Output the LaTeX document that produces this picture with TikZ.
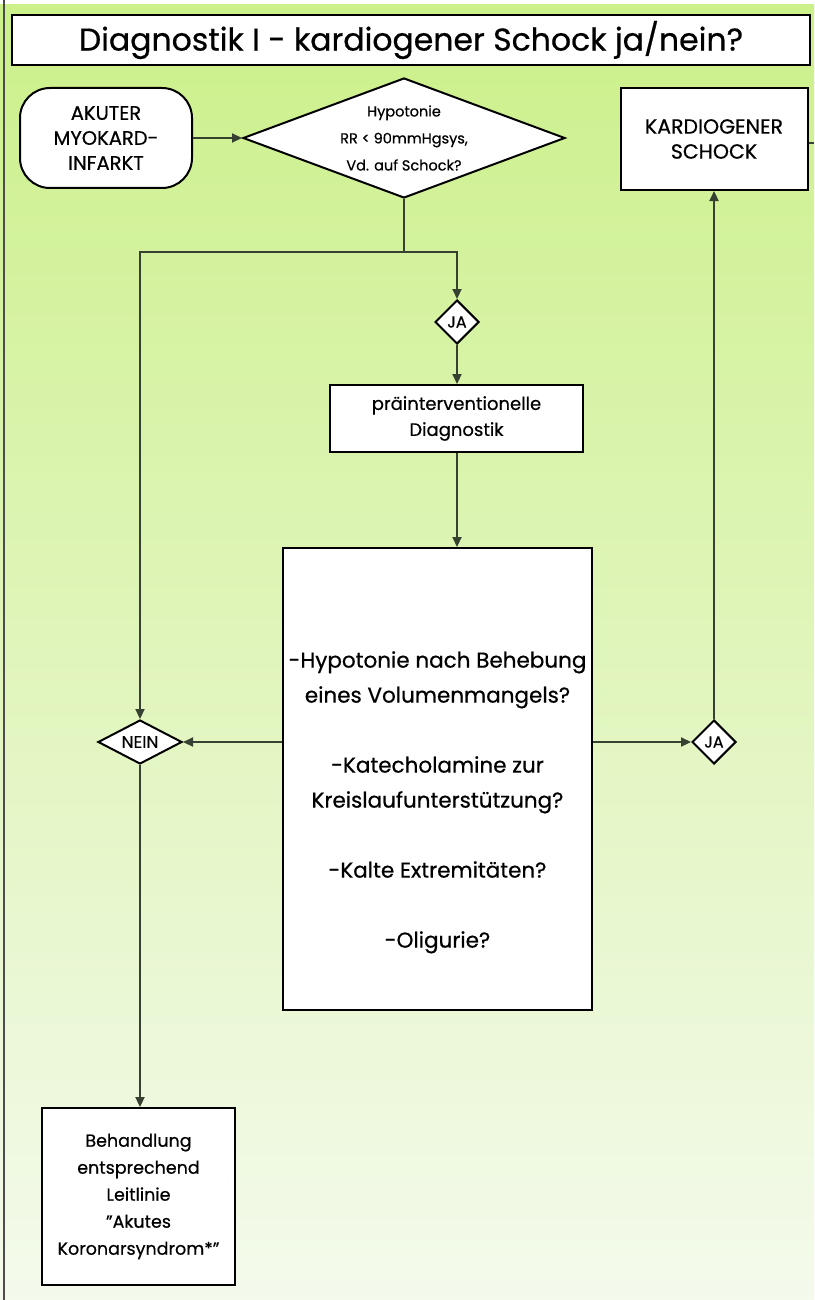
\documentclass[tikz,border=0pt]{standalone}
\usepackage{fontspec}
\setmainfont{Poppins}[FakeBold=0.6]
\usetikzlibrary{shapes.geometric,arrows.meta}
\definecolor{bgtop}{RGB}{204,240,138}
\definecolor{bgbot}{RGB}{244,250,236}
\definecolor{linec}{RGB}{55,65,50}
\tikzset{
  box/.style={draw=black,line width=2pt,fill=white,align=center,inner sep=2pt},
  dia/.style={draw=black,line width=2pt,fill=white,shape=diamond,inner sep=0pt,align=center},
  conn/.style={draw=linec,line width=2.2pt},
  arr/.style={conn,-{Triangle[length=10pt,width=9pt]}},
}
\begin{document}
\begin{tikzpicture}[x=1pt,y=-1pt]
\useasboundingbox (0,0) rectangle (814,1300);
\shade[top color=bgtop,bottom color=bgbot] (0,4) rectangle (814,1300);
\fill[white] (0,0) rectangle (814,4);
\draw[draw=black!70,line width=2pt] (4,0) -- (4,1300);

\node[box,minimum width=798pt,minimum height=50pt,font=\fontsize{31.5}{34}\selectfont] (title) at (411,40) {Diagnostik I - kardiogener Schock ja/nein?};

\node[box,rounded corners=30pt,minimum width=172pt,minimum height=100pt,font=\fontsize{19.5}{25}\selectfont] (akut) at (106,138) {AKUTER\\MYOKARD-\\INFARKT};

\node[dia,aspect=2.68,minimum width=322pt,minimum height=120pt,font=\fontsize{14.5}{27}\selectfont] (hyp) at (404,138) {Hypotonie\\RR < 90mmHgsys,\\Vd. auf Schock?};

\node[box,minimum width=187pt,minimum height=102pt,font=\fontsize{20.5}{25}\selectfont] (kard) at (714,139) {KARDIOGENER\\SCHOCK};

\node[dia,minimum width=44pt,minimum height=44pt,font=\fontsize{16}{18}\selectfont] (ja1) at (457,322) {JA};

\node[box,minimum width=253pt,minimum height=67pt,font=\fontsize{18}{26}\selectfont] (prae) at (456.5,418.5) {präinterventionelle\\Diagnostik};

\node[box,minimum width=309pt,minimum height=462pt,font=\fontsize{21.5}{35}\selectfont] (big) at (437.5,779) {\mbox{}\\[28pt]-Hypotonie nach Behebung\\eines Volumenmangels?\\[35pt]-Katecholamine zur\\Kreislaufunterstützung?\\[35pt]-Kalte Extremitäten?\\[35pt]-Oligurie?};

\node[dia,aspect=1.9,minimum width=84pt,minimum height=44pt,font=\fontsize{17}{18}\selectfont] (nein) at (140,742) {NEIN};

\node[dia,minimum width=44pt,minimum height=44pt,font=\fontsize{16}{18}\selectfont] (ja2) at (714,742) {JA};

\node[box,minimum width=193pt,minimum height=177pt,font=\fontsize{17.5}{27}\selectfont] (beh) at (138.5,1196.5) {Behandlung\\entsprechend\\Leitlinie\\\symbol{34}Akutes\\Koronarsyndrom*\symbol{34}};

\coordinate (j1) at (404,252);
\coordinate (kout) at (814,143);

\draw[arr] (akut.east) -- (hyp.west);
\draw[conn] (hyp.south) -- (j1);
\draw[arr] (j1) -| (ja1.north);
\draw[arr] (j1) -| (nein.north);
\draw[arr] (ja1.south) -- (prae.north -| ja1.south);
\draw[arr] (prae.south -| ja1.south) -- (big.north -| ja1.south);
\draw[arr] (big.west |- nein.east) -- (nein.east);
\draw[arr] (big.east |- ja2.west) -- (ja2.west);
\draw[arr] (ja2.north) -- (kard.south);
\draw[arr] (nein.south) -- (nein.south |- beh.north);
\draw[conn] (kard.east |- kout) -- (kout);
\end{tikzpicture}
\end{document}
